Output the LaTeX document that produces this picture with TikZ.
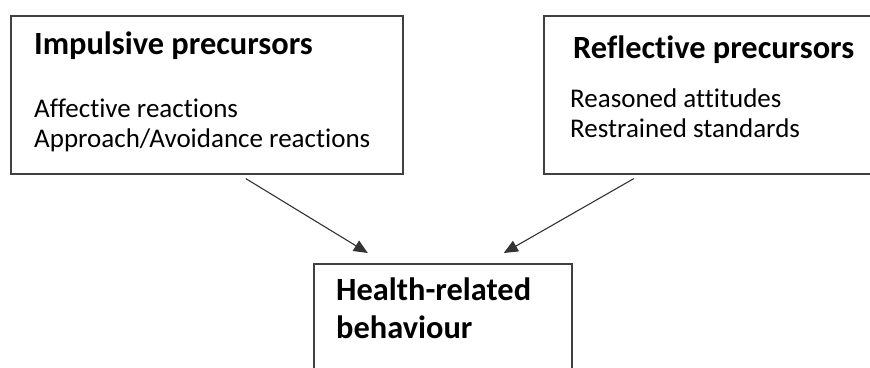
\documentclass[tikz,border=0pt]{standalone}
\usepackage{fontspec}
\setmainfont{Carlito}[Ligatures=CommonOff]
\usetikzlibrary{positioning,arrows.meta,calc}

\begin{document}
\begin{tikzpicture}[x=1pt, y=1pt,
            box/.style={rectangle, draw=black!75, line width=1.6pt, inner sep=0pt},
            head/.style={anchor=base west, inner sep=0pt, font=\fontsize{32.4}{36}\selectfont\bfseries},
            item/.style={anchor=base west, inner sep=0pt, font=\fontsize{27}{32}\selectfont},
            arrow/.style={-{Triangle[length=14pt, width=12pt]}, line width=1.1pt, draw=black!80}
        ]
            \useasboundingbox (0,0) rectangle (870,-367);
            \clip (0,0) rectangle (870,-367);
            % boxes
            \node[box, anchor=north west, minimum width=392pt, minimum height=158pt] (imp) at (10,-15) {};
            \node[box, anchor=north west, minimum width=345pt, minimum height=158pt] (refl) at (543,-15) {};
            \node[box, anchor=north west, minimum width=258pt, minimum height=130pt] (health) at (313,-263) {};
            % texts
            \node[head] (imph) at (34,-54) {Impulsive precursors};
            \node[item] (imp1) at (34,-117) {Affective reactions};
            \node[item] (imp2) at (34,-147) {Approach/Avoidance reactions};
            \node[head] (reflh) at (573,-58) {Reflective precursors};
            \node[item] (refl1) at (570,-107) {Reasoned attitudes};
            \node[item] (refl2) at (570,-137) {Restrained standards};
            \node[head] (healthh1) at (336,-300) {Health-related};
            \node[head] (healthh2) at (336,-338) {behaviour};
            % arrows
            \draw[arrow] ([xshift=39pt, yshift=-4pt]imp.south) -- ([xshift=-75pt, yshift=10pt]health.north);
            \draw[arrow] ([xshift=-82.5pt, yshift=-4pt]refl.south) -- ([xshift=61pt, yshift=10pt]health.north);
        \end{tikzpicture}
\end{document}
